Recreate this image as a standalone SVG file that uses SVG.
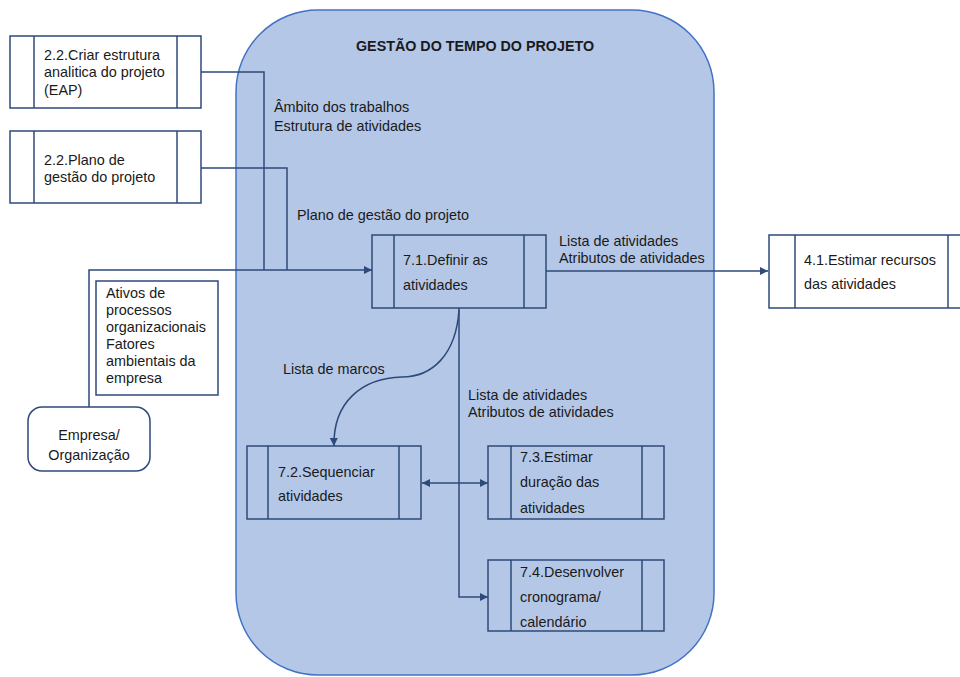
<svg xmlns="http://www.w3.org/2000/svg" width="960" height="677" viewBox="0 0 960 677">
  <style>
    text { font-family: "Liberation Sans", Arial, sans-serif; font-size: 14.4px; fill: #1a1a1a; }
    .title { font-weight: bold; font-size: 14.3px; }
    .box { fill: #ffffff; stroke: #2e4a7a; stroke-width: 1.5; }
    .inbox { fill: none; stroke: #2e4a7a; stroke-width: 1.5; }
    .bar { stroke: #2e4a7a; stroke-width: 1.5; }
    .wire { fill: none; stroke: #2e4a7a; stroke-width: 1.5; }
  </style>
  <defs>
    <marker id="arrow" viewBox="0 0 10 10" refX="10" refY="5" markerWidth="8" markerHeight="8" markerUnits="userSpaceOnUse" orient="auto-start-reverse">
      <path d="M0,0 L10,5 L0,10 z" fill="#2e4a7a"/>
    </marker>
  </defs>

  <!-- process area -->
  <g id="area">
    <rect x="236" y="10" width="478" height="665" rx="82" ry="82" fill="#b4c7e7" stroke="#4472c4" stroke-width="1.5"/>
    <text class="title" x="475" y="51" text-anchor="middle">GESTÃO DO TEMPO DO PROJETO</text>
  </g>

  <!-- connectors -->
  <g id="connectors">
    <path class="wire" d="M201,72 H264 V270"/>
    <path class="wire" d="M201,168 H287 V270"/>
    <path class="wire" d="M89,407 V270 H372" marker-end="url(#arrow)"/>
    <path class="wire" d="M546,271 H768" marker-end="url(#arrow)"/>
    <path class="wire" d="M459,308 V483" stroke-width="3"/>
    <path class="wire" d="M459,483 V597 H488" marker-end="url(#arrow)"/>
    <path class="wire" d="M422,483 H488" marker-start="url(#arrow)" marker-end="url(#arrow)"/>
    <path class="wire" d="M459,310 C456,355 432,377 402,377 C362,378 333,402 334,446" marker-end="url(#arrow)"/>
    <text x="274" y="112">Âmbito dos trabalhos</text>
    <text x="274" y="131">Estrutura de atividades</text>
    <text x="297" y="220">Plano de gestão do projeto</text>
    <text x="559" y="246">Lista de atividades</text>
    <text x="559" y="263">Atributos de atividades</text>
    <text x="283" y="374">Lista de marcos</text>
    <text x="468" y="400">Lista de atividades</text>
    <text x="468" y="417">Atributos de atividades</text>
  </g>

  <g id="n-eap">
    <rect class="box" x="10" y="36" width="191" height="72"/>
    <line class="bar" x1="34" y1="36" x2="34" y2="108"/>
    <line class="bar" x1="177" y1="36" x2="177" y2="108"/>
    <text x="44" y="60">2.2.Criar estrutura</text>
    <text x="44" y="77">analitica do projeto</text>
    <text x="44" y="95">(EAP)</text>
  </g>

  <g id="n-plano">
    <rect class="box" x="10" y="131" width="191" height="72"/>
    <line class="bar" x1="34" y1="131" x2="34" y2="203"/>
    <line class="bar" x1="177" y1="131" x2="177" y2="203"/>
    <text x="44" y="165">2.2.Plano de</text>
    <text x="44" y="182">gestão do projeto</text>
  </g>

  <g id="n-ativos">
    <rect class="box" x="96" y="281" width="122" height="114" stroke-width="1.2"/>
    <text x="106" y="298">Ativos de</text>
    <text x="106" y="315">processos</text>
    <text x="106" y="332">organizacionais</text>
    <text x="106" y="349">Fatores</text>
    <text x="106" y="366">ambientais da</text>
    <text x="106" y="383">empresa</text>
  </g>

  <g id="n-empresa">
    <rect class="box" x="28" y="407" width="122" height="64" rx="14" ry="14"/>
    <text x="89" y="440" text-anchor="middle">Empresa/</text>
    <text x="89" y="460" text-anchor="middle">Organização</text>
  </g>

  <g id="n-71">
    <rect class="inbox" x="372" y="235" width="174" height="73"/>
    <line class="bar" x1="394" y1="235" x2="394" y2="308"/>
    <line class="bar" x1="524" y1="235" x2="524" y2="308"/>
    <text x="403" y="265">7.1.Definir as</text>
    <text x="403" y="290">atividades</text>
  </g>

  <g id="n-41">
    <rect class="box" x="769" y="235" width="200" height="73"/>
    <line class="bar" x1="795" y1="235" x2="795" y2="308"/>
    <line class="bar" x1="948" y1="235" x2="948" y2="308"/>
    <text x="804" y="265">4.1.Estimar recursos</text>
    <text x="804" y="289">das atividades</text>
  </g>

  <g id="n-72">
    <rect class="inbox" x="247" y="446" width="174" height="73"/>
    <line class="bar" x1="268" y1="446" x2="268" y2="519"/>
    <line class="bar" x1="399" y1="446" x2="399" y2="519"/>
    <text x="278" y="477">7.2.Sequenciar</text>
    <text x="278" y="501">atividades</text>
  </g>

  <g id="n-73">
    <rect class="inbox" x="488" y="446" width="176" height="73"/>
    <line class="bar" x1="511" y1="446" x2="511" y2="519"/>
    <line class="bar" x1="642" y1="446" x2="642" y2="519"/>
    <text x="520" y="462">7.3.Estimar</text>
    <text x="520" y="487">duração das</text>
    <text x="520" y="513">atividades</text>
  </g>

  <g id="n-74">
    <rect class="inbox" x="488" y="560" width="176" height="71"/>
    <line class="bar" x1="511" y1="560" x2="511" y2="631"/>
    <line class="bar" x1="642" y1="560" x2="642" y2="631"/>
    <text x="520" y="577">7.4.Desenvolver</text>
    <text x="520" y="602">cronograma/</text>
    <text x="520" y="627">calendário</text>
  </g>
</svg>
